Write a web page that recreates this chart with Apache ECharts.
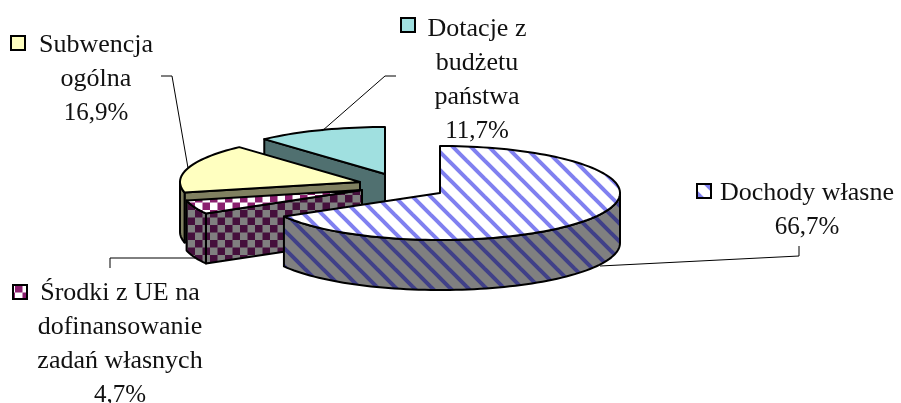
<!DOCTYPE html>
<html>
<head>
<meta charset="utf-8" />
<title>Struktura dochodów</title>
<script src="https://cdn.jsdelivr.net/npm/echarts@6/dist/echarts.min.js"></script>
<style>
html, body { margin: 0; padding: 0; background: #fff; }
#main { width: 901px; height: 403px; }
</style>
</head>
<body>
<div id="main"></div>
<script>
// dane, kolejnosc zgodnie z ruchem wskazowek od godz. 12
var categories = ['Dochody własne', 'Środki z UE na\ndofinansowanie\nzadań własnych', 'Subwencja\nogólna', 'Dotacje z\nbudżetu\npaństwa'];
var values = [66.7, 4.7, 16.9, 11.7];

// kazdy wycinek wysuniety osobno
var sliceCenters = [[440, 193], [362, 190], [360, 182], [385, 174]];
var drawOrder = [3, 2, 1, 0];
var RX = 180, RY = 47, DEPTH = 50;

var labelPos = [[807, 176], [120, 276], [96, 28], [477, 12]];
var keyPos = [[697, 184], [13, 285], [11, 36], [401, 18]];
var leaders = [
    [[799, 246], [799, 256], [600, 266]],
    [[110, 268], [110, 258], [195, 258]],
    [[161, 76], [172, 76], [188, 168]],
    [[396, 76], [385, 76], [322, 131]]
];

function tile(size, draw) {
    var c = document.createElement('canvas');
    c.width = c.height = size;
    draw(c.getContext('2d'), size);
    return { image: c, repeat: 'repeat' };
}
function stripes(bg, fg) {
    return tile(18, function (ctx, s) {
        ctx.fillStyle = bg;
        ctx.fillRect(0, 0, s, s);
        ctx.strokeStyle = fg;
        ctx.lineWidth = 4;
        for (var i = -s; i <= s; i += s) {
            ctx.beginPath();
            ctx.moveTo(i - 2, -2);
            ctx.lineTo(i + s + 2, s + 2);
            ctx.stroke();
        }
    });
}
function checker(a, b) {
    return tile(15, function (ctx, s) {
        ctx.fillStyle = a;
        ctx.fillRect(0, 0, s, s);
        ctx.fillStyle = b;
        ctx.fillRect(0, 0, 7.5, 7.5);
        ctx.fillRect(7.5, 7.5, 7.5, 7.5);
    });
}
var topFill = [stripes('#ffffff', '#8080f0'), checker('#ffffff', '#8a1f6e'), '#ffffc0', '#a0e0e0'];
var wallFill = [stripes('#808080', '#404088'), checker('#808080', '#45103c'), '#808060', '#507070'];

var total = values.reduce(function (a, b) { return a + b; }, 0);
var startAngles = [];
values.reduce(function (acc, v, i) {
    startAngles[i] = acc;
    return acc + v / total * 360;
}, 0);

function pt(c, deg, dz) {
    var r = deg * Math.PI / 180;
    return [c[0] + RX * Math.sin(r), c[1] - RY * Math.cos(r) + (dz || 0)];
}
function arcPts(c, from, to, dz) {
    var pts = [];
    var n = Math.max(2, Math.ceil(Math.abs(to - from) / 2));
    for (var i = 0; i <= n; i++) {
        pts.push(pt(c, from + (to - from) * i / n, dz));
    }
    return pts;
}
function poly(points, fill) {
    return {
        type: 'polygon',
        shape: { points: points },
        style: { fill: fill, stroke: '#000', lineWidth: 2, lineJoin: 'round' }
    };
}

function renderSlice(params, api) {
    var idx = api.value(0);
    var c = sliceCenters[idx];
    var s = startAngles[idx];
    var e = s + values[idx] / total * 360;
    var kids = [];
    // sciana wewnetrzna widoczna gdy patrzy w strone widza
    if (Math.sin(s * Math.PI / 180) < -0.001) {
        kids.push(poly([c, pt(c, s), pt(c, s, DEPTH), [c[0], c[1] + DEPTH]], wallFill[idx]));
    }
    if (Math.sin(e * Math.PI / 180) > 0.001) {
        kids.push(poly([c, pt(c, e), pt(c, e, DEPTH), [c[0], c[1] + DEPTH]], wallFill[idx]));
    }
    // sciana zewnetrzna tylko w przedniej polowie
    var a = Math.max(s, 90), b = Math.min(e, 270);
    if (b > a) {
        kids.push(poly(arcPts(c, a, b, 0).concat(arcPts(c, b, a, DEPTH)), wallFill[idx]));
    }
    kids.push(poly([c].concat(arcPts(c, s, e, 0)), topFill[idx]));
    return { type: 'group', children: kids };
}

function renderLabel(params, api) {
    var idx = api.value(0);
    var k = keyPos[idx];
    var pct = values[idx].toFixed(1).replace('.', ',') + '%';
    return {
        type: 'group',
        children: [
            {
                type: 'polyline',
                shape: { points: leaders[idx] },
                style: { fill: null, stroke: '#000', lineWidth: 1 }
            },
            {
                type: 'rect',
                shape: { x: k[0], y: k[1], width: 14, height: 14 },
                style: { fill: topFill[idx], stroke: '#000', lineWidth: 2 }
            },
            {
                type: 'text',
                style: {
                    x: labelPos[idx][0],
                    y: labelPos[idx][1],
                    align: 'center',
                    verticalAlign: 'top',
                    text: categories[idx].split('\n').map(function (l) { return '{n|' + l + '}'; }).join('\n') + '\n{p|' + pct + '}',
                    rich: {
                        n: { fontFamily: '"Liberation Serif"', fontSize: 26, lineHeight: 34, fill: '#111' },
                        p: { fontFamily: '"Liberation Serif"', fontSize: 25, lineHeight: 34, fill: '#111' }
                    }
                }
            }
        ]
    };
}

var chart = echarts.init(document.getElementById('main'), null, { renderer: 'canvas' });
chart.setOption({
    animation: false,
    backgroundColor: '#fff',
    series: [
        {
            type: 'custom',
            coordinateSystem: 'none',
            silent: true,
            renderItem: renderLabel,
            data: values.map(function (v, i) { return [i]; }),
            z: 3
        },
        {
            type: 'custom',
            coordinateSystem: 'none',
            silent: true,
            renderItem: renderSlice,
            data: drawOrder.map(function (i) { return [i]; }),
            z: 2
        }
    ]
});
</script>
</body>
</html>
